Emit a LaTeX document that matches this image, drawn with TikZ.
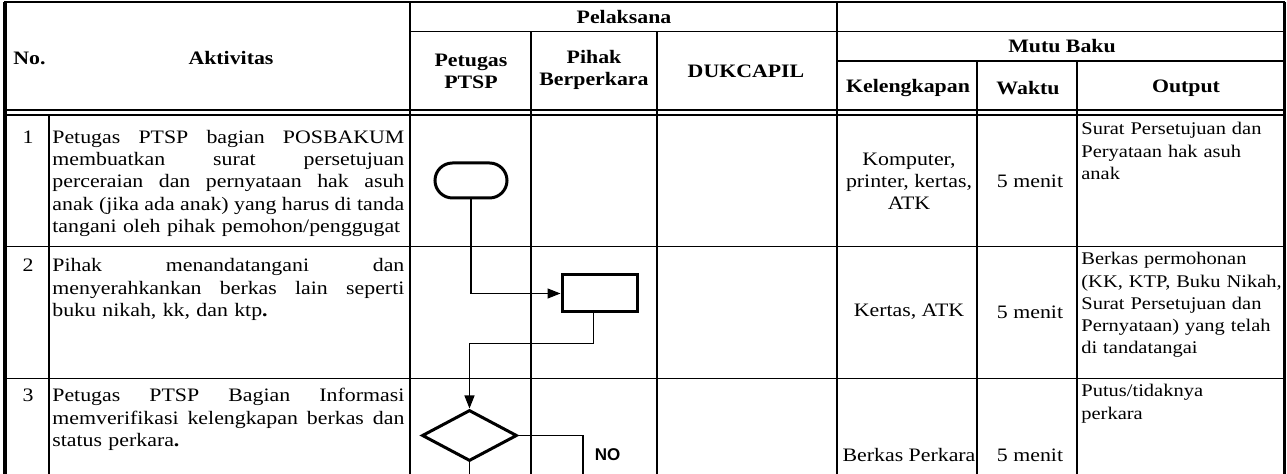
\documentclass[tikz,border=0pt]{standalone}
\usepackage{fontspec}
\setmainfont{Liberation Serif}[FakeStretch=1.15]
\newfontfamily\lblfont{Liberation Sans}
\usetikzlibrary{arrows.meta,positioning,calc,shapes.geometric}
\newcommand{\tabfont}{\fontsize{9.5}{11.1}\selectfont}
\newcommand{\jl}[1]{{\spaceskip=0pt\xspaceskip=0pt\makebox[176pt][s]{#1}}}
\begin{document}
\begin{tikzpicture}[
  x=0.5pt,y=-0.5pt,
  font=\tabfont,
  grid/.style={line width=0.9pt},
  hd/.style={font=\tabfont\bfseries,align=center,inner sep=0},
  akt/.style={anchor=base west,text width=176pt,inner sep=0},
  outp/.style={anchor=base west,text width=130pt,inner sep=0,font=\fontsize{8.9}{11.1}\selectfont},
  mid/.style={align=center,inner sep=0},
  num/.style={anchor=base,inner sep=0},
  term/.style={draw,line width=1.5pt,rounded corners=8.75pt,minimum width=36pt,minimum height=17.5pt,inner sep=0},
  proc/.style={draw,line width=1.5pt,minimum width=37.5pt,minimum height=18.5pt,inner sep=0},
  dec/.style={diamond,draw,line width=1.5pt,minimum width=47.5pt,minimum height=25.5pt,inner sep=0},
  arr/.style={-{Triangle[length=6.5pt,width=5pt]},line width=0.6pt},
  link/.style={line width=0.6pt}
]
\useasboundingbox (0,0) rectangle (1287,474);
% table
\draw[grid,line width=1pt] (4,2) -- (1285,2);
\draw[grid] (410,31.5) -- (1284,31.5);
\draw[grid] (837,61) -- (1284,61);
\draw[grid] (4,110) -- (1284,110);
\draw[grid] (4,115) -- (1284,115);
\draw[grid] (4,246.5) -- (1284,246.5);
\draw[grid] (4,378.5) -- (1284,378.5);
\draw[grid] (49,115) -- (49,474);
\foreach \x in {410,837} \draw[grid] (\x,2) -- (\x,474);
\foreach \x in {531,657} \draw[grid] (\x,31.5) -- (\x,474);
\foreach \x in {977,1077} \draw[grid] (\x,61) -- (\x,474);
\draw[line width=2pt] (4.5,2) -- (4.5,474);
\draw[line width=1.6pt] (1284.5,2) -- (1284.5,474);
% header
\node[hd,anchor=west] (hno) at (13,58) {No.};
\node[hd] (hakt) at (231,58) {Aktivitas};
\node[hd] (hpel) at (624,17) {Pelaksana};
\node[hd] (hptsp) at (471,71) {Petugas\\PTSP};
\node[hd] (hpihak) at (594,70) {Pihak\\Berperkara};
\node[hd] (hduk) at (746,71) {DUKCAPIL};
\node[hd] (hmutu) at (1062,46) {Mutu Baku};
\node[hd] (hkel) at (908,88) {Kelengkapan};
\node[hd] (hwaktu) at (1028,88) {Waktu};
\node[hd] (hout) at (1186,88) {Output};
% rows
\node[num] (n1) at (28,143.5) {1};
\node[akt] (a1) at (52,143.5) {\jl{Petugas PTSP bagian POSBAKUM}\\
  \jl{membuatkan surat persetujuan}\\
  \jl{perceraian dan pernyataan hak asuh}\\
  \jl{anak (jika ada anak) yang harus di tanda}\\
  tangani oleh pihak pemohon/penggugat};
\node[mid] (k1) at (909,181) {Komputer,\\printer, kertas,\\ATK};
\node[mid] (w1) at (1030,181) {5 menit};
\node[outp] (o1) at (1081,135) {Surat Persetujuan dan\\Peryataan hak asuh\\anak};
\node[num] (n2) at (28,272) {2};
\node[akt] (a2) at (52,272) {\jl{Pihak menandatangani dan}\\
  \jl{menyerahkankan berkas lain seperti}\\
  buku nikah, kk, dan ktp\textbf{.}};
\node[mid] (k2) at (909,312) {Kertas, ATK};
\node[mid] (w2) at (1030,312) {5 menit};
\node[outp] (o2) at (1081,265) {Berkas permohonan\\(KK, KTP, Buku Nikah,\\Surat Persetujuan dan\\Pernyataan) yang telah\\di tandatangai};
\node[num] (n3) at (28,402) {3};
\node[akt] (a3) at (52,402) {\jl{Petugas PTSP Bagian Informasi}\\
  \jl{memverifikasi kelengkapan berkas dan}\\
  status perkara\textbf{.}};
\node[mid] (k3) at (909,455) {Berkas Perkara};
\node[mid] (w3) at (1030,455) {5 menit};
\node[outp] (o3) at (1081,397) {Putus/tidaknya\\perkara};
% flow
\node[term] (t1) at (471,180.5) {};
\node[proc] (p2) at (599.5,293.5) {};
\node[dec] (d3) at (469.5,435.5) {};
\node[font=\lblfont\fontsize{8.5}{10}\selectfont\bfseries,inner sep=0] (nolbl) at (607.5,455) {NO};
\coordinate (noend) at (583,474);
\coordinate (yesend) at (469.5,474);
\draw[arr] (t1.south) |- (p2.west);
\draw[arr] ([xshift=-3pt]p2.south) -- ++(0,30) -| (d3.north);
\draw[link] (d3.east) -| (noend);
\draw[link] (d3.south) -- (yesend);
\end{tikzpicture}
\end{document}
